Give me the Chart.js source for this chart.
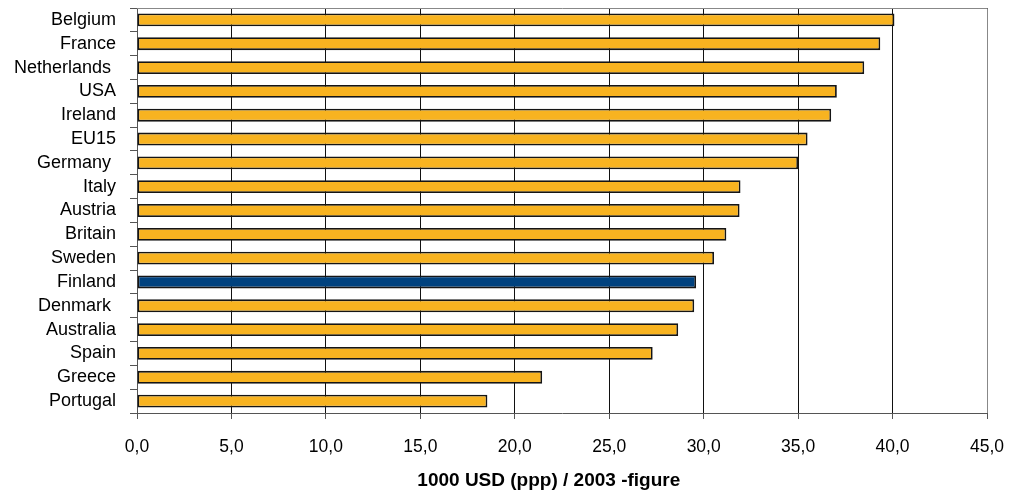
<!DOCTYPE html>
<html>
<head>
<meta charset="utf-8">
<script src="https://cdn.jsdelivr.net/npm/chart.js@4"></script>
<style>
  body { margin: 0; background: #fff; }
  #wrap { width: 1011px; height: 496px; }
</style>
</head>
<body>
<div id="wrap"><canvas id="myChart"></canvas></div>
<script>
// countries, top to bottom
var countries = ['Belgium', 'France', 'Netherlands ', 'USA', 'Ireland', 'EU15', 'Germany ',
  'Italy', 'Austria', 'Britain', 'Sweden', 'Finland', 'Denmark ', 'Australia', 'Spain',
  'Greece', 'Portugal'];
// 1000 USD (ppp), 2003
var gdp = [40.1, 39.35, 38.5, 37.05, 36.75, 35.5, 35.0, 31.95, 31.9, 31.2, 30.55, 29.6,
  29.5, 28.65, 27.3, 21.45, 18.55];
var xTicks = [0, 5, 10, 15, 20, 25, 30, 35, 40, 45];
var highlight = 'Finland';

var barColors = [];
for (var i = 0; i < countries.length; i++) {
    barColors.push(countries[i].trim() == highlight ? '#00427f' : '#f8b320');
}

var frame = {
    id: 'frame',
    afterDraw: function(chart) {
        var a = chart.chartArea, c = chart.ctx;
        c.save();
        c.strokeStyle = '#888';
        c.lineWidth = 1;
        c.beginPath();
        c.moveTo(a.left, a.top + 0.5);
        c.lineTo(a.right + 0.5, a.top + 0.5);
        c.lineTo(a.right + 0.5, a.bottom);
        c.stroke();
        c.restore();
    }
};

var font = 'Liberation Sans, Arial, sans-serif';

var chartdata = {
    labels: countries,
    datasets: [{
        data: gdp,
        backgroundColor: barColors,
        borderColor: '#151515',
        borderWidth: 1.8,
        borderSkipped: false,
        barPercentage: 0.54,
        categoryPercentage: 1
    }]
};

var ctx = document.getElementById('myChart');
var myChart = new Chart(ctx, {
    type: 'bar',
    data: chartdata,
    plugins: [frame],
    options: {
        indexAxis: 'y',
        responsive: true,
        maintainAspectRatio: false,
        animation: false,
        layout: { padding: { top: 8, right: 24, left: 0, bottom: 0 } },
        plugins: { legend: { display: false }, tooltip: { enabled: false } },
        scales: {
            x: {
                min: 0,
                max: 45,
                afterBuildTicks: function(scale) {
                    scale.ticks = xTicks.map(function(v) { return { value: v }; });
                },
                afterFit: function(scale) {
                    scale.height = 83;
                    scale.paddingLeft = 0;
                    scale.paddingRight = 0;
                },
                grid: { color: '#111', lineWidth: 1, drawTicks: true, tickLength: 6, tickColor: '#555' },
                border: { color: '#555', width: 1 },
                ticks: {
                    color: '#000',
                    padding: 18,
                    font: { family: font, size: 17.5 },
                    callback: function(v) { return v.toFixed(1).replace('.', ','); }
                },
                title: {
                    display: true,
                    text: '1000 USD (ppp) / 2003 -figure     ',
                    color: '#000',
                    padding: { top: 0, bottom: 4 },
                    font: { family: font, size: 19, weight: 'bold' }
                }
            },
            y: {
                afterFit: function(scale) {
                    scale.width = 137;
                    scale.paddingTop = 0;
                    scale.paddingBottom = 0;
                },
                grid: { offset: true, drawOnChartArea: false, drawTicks: true, tickLength: 7, color: '#555' },
                border: { color: '#555', width: 1 },
                ticks: {
                    color: '#000',
                    padding: 14,
                    autoSkip: false,
                    font: { family: font, size: 18 }
                }
            }
        }
    }
});
</script>
</body>
</html>
